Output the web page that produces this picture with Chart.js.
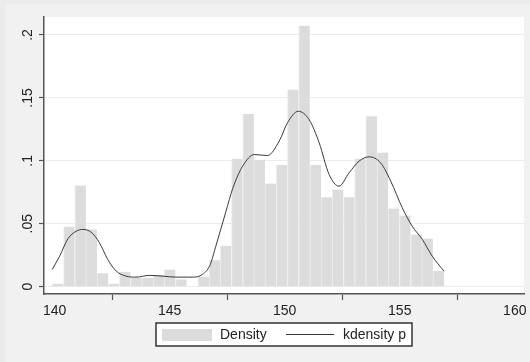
<!DOCTYPE html>
<html>
<head>
<meta charset="utf-8">
<script src="https://cdn.jsdelivr.net/npm/chart.js@4/dist/chart.umd.min.js"></script>
<style>
  body { margin: 0; background: #ebebeb; }
  canvas { display: block; }
</style>
</head>
<body>
<canvas id="myChart" width="530" height="362"></canvas>
<script>
// histogram bins (centres) and densities
const binCenters = [140.14, 140.63, 141.12, 141.60, 142.09, 142.58, 143.06, 143.55, 144.04, 144.52,
  145.01, 145.50, 145.98, 146.47, 146.96, 147.44, 147.93, 148.42, 148.90, 149.39,
  149.88, 150.36, 150.85, 151.34, 151.82, 152.31, 152.80, 153.28, 153.77, 154.26,
  154.74, 155.23, 155.72, 156.20, 156.69];
const densityValues = [0.0024, 0.0476, 0.0804, 0.0455, 0.0106, 0.0024, 0.0119, 0.0071, 0.0071, 0.0092,
  0.0137, 0.0058, 0, 0.0079, 0.0211, 0.0325, 0.1016, 0.1373, 0.1008, 0.0820,
  0.0968, 0.1566, 0.2074, 0.0968, 0.0711, 0.0772, 0.0711, 0.1016, 0.1354, 0.1066,
  0.0621, 0.0566, 0.0415, 0.0383, 0.0124];

// kernel density curve, traced
const kdensX = [139.90, 140.22, 140.58, 140.94, 141.23, 141.59, 141.95, 142.31, 142.68, 143.11,
  143.54, 144.12, 144.70, 145.28, 146.00, 146.43, 146.75, 147.02, 147.45, 147.74,
  148.17, 148.68, 149.25, 149.76, 150.12, 150.59, 151.06, 151.50, 151.93, 152.36,
  152.80, 153.23, 153.67, 154.17, 154.61, 155.11, 155.54, 155.98, 156.41, 156.92];
const kdensY = [0.0137, 0.0243, 0.0381, 0.0441, 0.0455, 0.0433, 0.0349, 0.0217, 0.0124, 0.0084,
  0.0076, 0.0090, 0.0084, 0.0076, 0.0076, 0.0098, 0.0170, 0.0330, 0.0600, 0.0780,
  0.0957, 0.1050, 0.1042, 0.1156, 0.1302, 0.1394, 0.1328, 0.1143, 0.0892, 0.0799,
  0.0905, 0.0997, 0.1032, 0.0984, 0.0838, 0.0627, 0.0481, 0.0376, 0.0243, 0.0124];

const xTicks = [140, 145, 150, 155, 160];
const yTicks = [0, 0.05, 0.1, 0.15, 0.2];
const yTickLabels = ['0', '.05', '.1', '.15', '.2'];

const FONT = "'Liberation Sans', Arial, sans-serif";

// grey graph region behind everything
const bgPlugin = {
  id: 'bg',
  beforeDraw(chart) {
    const c = chart.ctx;
    c.save();
    c.fillStyle = '#f1f1f1';
    c.fillRect(5, 4, chart.width - 5, chart.height - 4);
    const a = chart.chartArea;
    c.fillStyle = '#ffffff';
    c.fillRect(a.left, a.top, a.right - a.left, a.bottom - a.top);
    c.restore();
  }
};

// rotated y labels + boxed legend, Stata style
const extrasPlugin = {
  id: 'extras',
  afterDraw(chart) {
    const c = chart.ctx;
    const y = chart.scales.y;
    c.save();
    c.font = '14px ' + FONT;
    c.fillStyle = '#222';
    c.textAlign = 'center';
    c.textBaseline = 'middle';
    yTicks.forEach((v, i) => {
      c.save();
      c.translate(28, y.getPixelForValue(v));
      c.rotate(-Math.PI / 2);
      c.fillText(yTickLabels[i], 0, 0);
      c.restore();
    });

    // legend
    const ds = chart.data.datasets;
    c.fillStyle = '#ffffff';
    c.fillRect(156, 323, 256, 23);
    c.strokeStyle = '#333';
    c.lineWidth = 1.5;
    c.strokeRect(156, 323, 256, 23);
    c.fillStyle = ds[0].backgroundColor;
    c.fillRect(162, 329, 50, 12);
    c.strokeStyle = ds[1].borderColor;
    c.lineWidth = 1;
    c.beginPath();
    c.moveTo(286, 334.5);
    c.lineTo(334, 334.5);
    c.stroke();
    c.fillStyle = '#222';
    c.textAlign = 'left';
    c.fillText(ds[0].label, 220, 335);
    c.fillText(ds[1].label, 343, 335);
    c.restore();
  }
};

const config = {
  data: {
    datasets: [
      {
        type: 'bar',
        label: 'Density',
        data: binCenters.map((x, i) => ({ x: x, y: densityValues[i] })),
        backgroundColor: '#dcdcdc',
        borderColor: '#ededed',
        borderWidth: { left: 1, right: 0, top: 0, bottom: 0 },
        borderSkipped: false,
        barPercentage: 1,
        categoryPercentage: 1,
        order: 2
      },
      {
        type: 'line',
        label: 'kdensity p',
        data: kdensX.map((x, i) => ({ x: x, y: kdensY[i] })),
        borderColor: '#3a3a3a',
        borderWidth: 1,
        pointRadius: 0,
        fill: false,
        tension: 0.4,
        cubicInterpolationMode: 'monotone',
        order: 1
      }
    ]
  },
  options: {
    responsive: false,
    animation: false,
    layout: { padding: { left: 0, top: 17, right: 6, bottom: 0 } },
    plugins: {
      legend: { display: false },
      tooltip: { enabled: false }
    },
    scales: {
      x: {
        type: 'linear',
        min: 139.54,
        max: 160.4,
        offset: false,
        afterFit: (s) => { s.height = 68; },
        afterBuildTicks: (s) => { s.ticks = xTicks.map(v => ({ value: v })); },
        ticks: {
          color: '#222',
          font: { family: FONT, size: 14 },
          padding: 3,
          maxRotation: 0
        },
        grid: { drawOnChartArea: false, drawTicks: true, tickLength: 6, tickColor: '#555', tickWidth: 1.2 },
        border: { display: true, color: '#555', width: 1.5 }
      },
      y: {
        type: 'linear',
        min: -0.0058,
        max: 0.2143,
        afterFit: (s) => { s.width = 44; },
        afterBuildTicks: (s) => { s.ticks = yTicks.map(v => ({ value: v })); },
        ticks: { display: false },
        grid: { color: '#ececec', lineWidth: 1, drawTicks: true, tickLength: 5, tickColor: '#555', tickWidth: 1.2 },
        border: { display: true, color: '#555', width: 1.5 }
      }
    }
  },
  plugins: [bgPlugin, extrasPlugin]
};

const ctx = document.getElementById('myChart').getContext('2d');
const myChart = new Chart(ctx, config);
</script>
</body>
</html>
